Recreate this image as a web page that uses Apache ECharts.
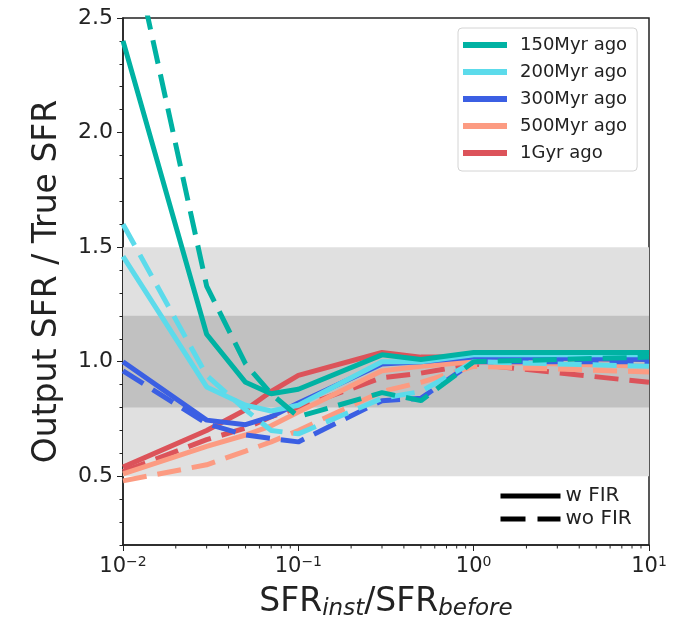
<!DOCTYPE html>
<html>
<head>
<meta charset="utf-8">
<script src="https://cdn.jsdelivr.net/npm/echarts@6/dist/echarts.min.js"></script>
<style>
  html, body { margin: 0; padding: 0; background: #fff; }
  #chart { width: 680px; height: 629px; }
</style>
</head>
<body>
<div id="chart"></div>
<script>
// x grid of the runs (SFR_inst / SFR_before)
const ratios = [0.01, 0.03, 0.05, 0.07, 0.1, 0.3, 0.5, 1, 10];

// with FIR (solid)
const myr150 = [2.40, 1.12, 0.91, 0.86, 0.88, 1.03, 1.01, 1.04, 1.04];
const myr200 = [1.46, 0.89, 0.81, 0.785, 0.81, 1.00, 1.00, 1.03, 1.03];
const myr300 = [1.00, 0.745, 0.725, 0.76, 0.82, 0.99, 1.00, 1.02, 1.01];
const myr500 = [0.51, 0.63, 0.68, 0.72, 0.78, 0.96, 0.98, 1.00, 0.98];
const gyr1 = [0.54, 0.70, 0.79, 0.87, 0.94, 1.04, 1.02, 1.02, 1.01];

// without FIR (dashed)
const myr150NoFir = [3.00, 1.33, 0.99, 0.86, 0.76, 0.865, 0.83, 1.00, 1.02];
const myr200NoFir = [1.60, 0.94, 0.79, 0.70, 0.685, 0.84, 0.87, 1.00, 0.98];
const myr300NoFir = [0.96, 0.73, 0.68, 0.665, 0.65, 0.83, 0.84, 1.00, 1.00];
const myr500NoFir = [0.48, 0.55, 0.61, 0.65, 0.70, 0.87, 0.91, 0.98, 0.955];
const gyr1NoFir = [0.52, 0.66, 0.71, 0.76, 0.80, 0.93, 0.95, 0.99, 0.91];

const ageNames = ["150Myr ago", "200Myr ago", "300Myr ago", "500Myr ago", "1Gyr ago"];
const yTicks = [0.5, 1.0, 1.5, 2.0, 2.5];
const xMinorTicks = [0.02, 0.03, 0.04, 0.05, 0.06, 0.07, 0.08, 0.09,
                     0.2, 0.3, 0.4, 0.5, 0.6, 0.7, 0.8, 0.9,
                     2, 3, 4, 5, 6, 7, 8, 9];

const colors = ["#00b2a3", "#5cdbeb", "#3b5fe3", "#fc9b82", "#dc535a"];
const solid = [myr150, myr200, myr300, myr500, gyr1];
const dashed = [myr150NoFir, myr200NoFir, myr300NoFir, myr500NoFir, gyr1NoFir];

const font = "DejaVu Sans";
const ink = "#222";
const yMin = 0.2, yMax = 2.5;

const pairs = (ys) => ratios.map((x, i) => [x, ys[i]]);

const series = [];

// shaded bands
series.push({
  name: "bands",
  type: "line",
  data: [],
  silent: true,
  markArea: {
    silent: true,
    data: [
      [{ yAxis: 0.5, itemStyle: { color: "#e0e0e0" } }, { yAxis: 1.5 }],
      [{ yAxis: 0.8, itemStyle: { color: "#c1c1c1" } }, { yAxis: 1.2 }],
    ],
  },
});

// draw from oldest to youngest so teal ends up on top
for (let k = 4; k >= 0; k--) {
  series.push({
    name: ageNames[k],
    type: "line",
    data: pairs(solid[k]),
    symbol: "none",
    color: colors[k],
    lineStyle: { width: 5, color: colors[k] },
  });
  series.push({
    name: ageNames[k] + " (wo FIR)",
    type: "line",
    data: pairs(dashed[k]),
    symbol: "none",
    color: colors[k],
    lineStyle: { width: 5, color: colors[k], type: [24, 11] },
  });
}

// dummy series for the line-style key
series.push({
  name: "w FIR", type: "line", data: [], symbol: "none", showSymbol: false,
  color: "#000", lineStyle: { width: 5, color: "#000" },
});
series.push({
  name: "wo FIR", type: "line", data: [], symbol: "none", showSymbol: false,
  color: "#000", lineStyle: { width: 5, color: "#000", type: [25, 12] },
});

// minor ticks of the log axis
series.push({
  type: "custom",
  silent: true,
  clip: false,
  data: xMinorTicks.map((v) => [v]),
  encode: { x: 0 },
  renderItem: (params, api) => {
    const p = api.coord([api.value(0), yMin]);
    return {
      type: "line",
      shape: { x1: p[0], y1: p[1], x2: p[0], y2: p[1] + 3.5 },
      style: { stroke: ink, lineWidth: 1 },
    };
  },
});

const chart = echarts.init(document.getElementById("chart"), null, { renderer: "canvas" });

chart.setOption({
  animation: false,
  backgroundColor: "#fff",
  textStyle: { fontFamily: font },
  grid: {
    left: 123, right: 31, top: 18, bottom: 84,
    show: true, borderColor: ink, borderWidth: 1.5, backgroundColor: "transparent",
  },
  xAxis: {
    type: "log",
    logBase: 10,
    min: 0.01,
    max: 10,
    splitLine: { show: false },
    axisLine: { lineStyle: { color: ink, width: 1.5 } },
    axisTick: { length: 6, lineStyle: { color: ink, width: 1 } },
    minorTick: { show: false },
    axisLabel: {
      margin: 10,
      color: ink,
      formatter: (v) => {
        const e = Math.round(Math.log10(v));
        return "{b|10}{s|" + (e < 0 ? "\u2212" + (-e) : e) + "}";
      },
      rich: {
        b: { fontSize: 21, fontFamily: font, color: ink, lineHeight: 23 },
        s: { fontSize: 14, fontFamily: font, color: ink, verticalAlign: "top", lineHeight: 14 },
      },
    },
    name: "{n|SFR}{i|inst}{n|/SFR}{i|before}",
    nameLocation: "middle",
    nameGap: 38,
    nameTextStyle: {
      rich: {
        n: { fontSize: 33, fontFamily: font, color: ink, lineHeight: 38 },
        i: { fontSize: 23, fontFamily: font, fontStyle: "italic", color: ink, verticalAlign: "bottom", lineHeight: 28 },
      },
    },
  },
  yAxis: [
    {
      type: "value",
      min: yMin,
      max: yMax,
      interval: 0.1,
      splitLine: { show: false },
      axisLine: { show: true, lineStyle: { color: ink, width: 1.5 } },
      axisTick: { length: 3.5, lineStyle: { color: ink, width: 1 } },
      axisLabel: { show: false },
    },
    {
      type: "value",
      min: yMin,
      max: yMax,
      position: "left",
      splitLine: { show: false },
      axisLine: { show: false },
      axisTick: { show: true, customValues: yTicks, length: 6, lineStyle: { color: ink, width: 1 } },
      axisLabel: {
        customValues: yTicks,
        margin: 10,
        fontSize: 22,
        color: ink,
        formatter: (v) => v.toFixed(1),
      },
      name: "Output SFR / True SFR",
      nameLocation: "middle",
      nameGap: 59,
      nameTextStyle: { fontSize: 33, color: ink, fontFamily: font },
    },
  ],
  legend: [
    {
      data: ageNames,
      orient: "vertical",
      left: 458,
      top: 28,
      icon: "rect",
      itemWidth: 44,
      itemHeight: 6,
      itemGap: 9,
      padding: [8, 10, 9, 5],
      backgroundColor: "#fff",
      borderColor: "#d4d4d4",
      borderWidth: 1,
      borderRadius: 4,
      selectedMode: false,
      textStyle: { fontSize: 18, color: ink, fontFamily: font, padding: [0, 0, 0, 8] },
    },
    {
      data: ["w FIR", "wo FIR"],
      orient: "vertical",
      left: 498,
      top: 486,
      itemWidth: 60,
      itemHeight: 10,
      itemGap: 3,
      padding: 0,
      selectedMode: false,
      itemStyle: { opacity: 0 },
      lineStyle: { width: 5 },
      textStyle: { fontSize: 20, color: ink, fontFamily: font },
    },
  ],
  series: series,
});
</script>
</body>
</html>
